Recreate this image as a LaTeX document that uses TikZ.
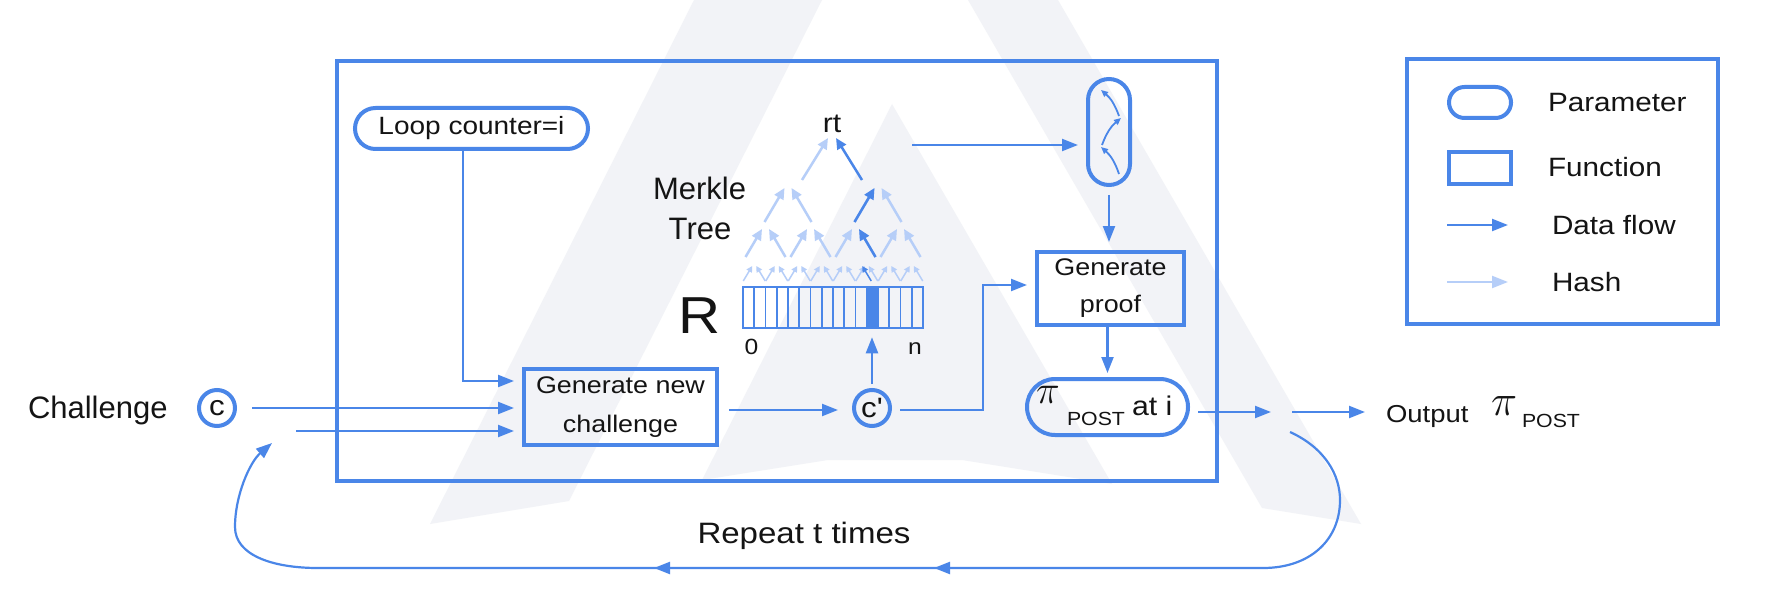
\RequirePackage{fix-cm}
\documentclass[tikz,border=0pt]{standalone}
\usepackage{fontspec}
\setmainfont{Liberation Sans}[FakeStretch=1.12]
\newfontfamily\plainsans{Liberation Sans}
\newfontfamily\nomapsans{Liberation Sans}[FakeStretch=1.12, Ligatures=ResetAll]
\usetikzlibrary{arrows.meta}
\definecolor{bl}{RGB}{74,134,232}
\definecolor{lbl}{RGB}{182,206,248}
\definecolor{wm}{RGB}{242,243,247}
\definecolor{tx}{RGB}{20,20,20}
\newcommand{\myfs}[1]{\fontsize{#1}{#1}\selectfont}
\begin{document}
\begin{tikzpicture}[x=1pt,y=-1pt,
  flow/.style={draw=bl, line width=2.2pt, shorten >=8pt, -{Triangle[length=16pt,width=12pt]}},
  hashar/.style={draw=lbl, line width=2.2pt, -{Triangle[length=16pt,width=12pt]}},
  hone/.style={draw=lbl, line width=1.5pt, -{Triangle[length=6pt,width=6pt]}},
  done/.style={draw=bl, line width=1.5pt, -{Triangle[length=6pt,width=6pt]}},
  htwo/.style={draw=lbl, line width=2.5pt, -{Triangle[length=11pt,width=10pt]}},
  dtwo/.style={draw=bl, line width=2.5pt, -{Triangle[length=11pt,width=10pt]}},
  smar/.style={draw=bl, line width=1.8pt, -{Triangle[length=7pt,width=6pt]}},
  box/.style={draw=bl, line width=4pt, inner sep=0pt, text=tx},
  circ/.style={draw=bl, line width=4pt, circle, minimum size=36pt, inner sep=0pt, text=tx, font=\myfs{28}},
  txt/.style={text=tx, inner sep=0pt, outer sep=0pt},
]
\fill[white] (0,0) rectangle (1774,604);
\useasboundingbox (0,0) rectangle (1774,604);
% watermark
\fill[wm] (430,524) -- (694,0) -- (822,0) -- (569,501) -- cycle;
\fill[wm] (892,104) -- (702,480) -- (828,460) -- (962,460) -- (1112,484) -- cycle;
\fill[wm] (1058,0) -- (1361,524) -- (1262,508) -- (968,0) -- cycle;

% frames
\node[box, minimum width=880pt, minimum height=420pt] (frame) at (777,271) {};
\node[box, minimum width=311pt, minimum height=265pt] (legend) at (1562.5,191.5) {};

% legend
\node[box, rounded corners=15.5pt, minimum width=62pt, minimum height=31pt] (legpill) at (1480,102.5) {};
\node[box, minimum width=62pt, minimum height=32pt] (legrect) at (1480,168) {};
\coordinate (dfa) at (1447,225); \coordinate (dfb) at (1508,225);
\coordinate (hsa) at (1447,282); \coordinate (hsb) at (1508,282);
\draw[flow, shorten >=0pt] (dfa) -- (dfb);
\draw[hashar] (hsa) -- (hsb);
\node[txt, anchor=base west, font=\myfs{26.5}] (lgp) at (1548,112) {Parameter};
\node[txt, anchor=base west, font=\myfs{26.5}] (lgf) at (1548,177) {Function};
\node[txt, anchor=base west, font=\myfs{26.5}] (lgd) at (1552,234) {Data flow};
\node[txt, anchor=base west, font=\myfs{26.5}] (lgh) at (1552,291) {Hash};

% main nodes
\node[box, rounded corners=20.5pt, minimum width=233pt, minimum height=41pt, font=\myfs{25}] (loop) at (471.5,128.5) {Loop counter=i};
\node[box, minimum width=193pt, minimum height=76pt, align=center, font={\fontsize{24}{39}\selectfont}] (gen) at (620.5,407) {Generate new\\challenge};
\node[box, minimum width=147pt, minimum height=73pt, align=center, font={\fontsize{24}{37}\selectfont}] (proof) at (1110.5,288.5) {Generate\\proof};
\node[box, rounded corners=28pt, minimum width=161pt, minimum height=56pt] (ppill) at (1107.5,407) {};
\node[box, rounded corners=21pt, minimum width=42pt, minimum height=106pt] (tpill) at (1109,132) {};
\node[circ] (c) at (217,408) {c};
\node[circ, font={\nomapsans\myfs{28}}] (cp) at (872,408) {c'};

% pill text
\node[txt, anchor=base west, font=\myfs{40}] (pipi) at (1036,403) {$\pi$};
\node[txt, anchor=base west, font=\myfs{19}] (pipost) at (1067,425) {POST};
\node[txt, anchor=base west, font=\myfs{27}] (piat) at (1132,415) {at i};

% labels
\node[txt, anchor=base west, font={\plainsans\myfs{31}}] (chal) at (28,418) {Challenge};
\node[txt, anchor=base, font={\plainsans\myfs{31}}] (merk) at (699.5,200) {Merkle};
\node[txt, anchor=base, font={\plainsans\myfs{31}}] (tree) at (700,240) {Tree};
\node[txt, anchor=base, font=\myfs{27}] (rt) at (832,133) {rt};
\node[txt, anchor=base, font=\myfs{52}] (R) at (700,333) {R};
\node[txt, anchor=base, font=\myfs{22}] (zero) at (751.5,354) {0};
\node[txt, anchor=base, font=\myfs{22}] (nn) at (915,354) {n};
\node[txt, anchor=base, font=\myfs{29.5}] (rep) at (804,543) {Repeat t times};
\node[txt, anchor=base west, font=\myfs{24.5}] (outtxt) at (1386,422) {Output};
\node[txt, anchor=base west, font=\myfs{44}] (opi) at (1491,415) {$\pi$};
\node[txt, anchor=base west, font=\myfs{19}] (opost) at (1522,427) {POST};

% array R
\node[draw=bl, line width=2.5pt, minimum width=180pt, minimum height=41pt, inner sep=0pt] (arr) at (833,307.5) {};
\fill[bl] (866.75,287) rectangle (878,328);
\foreach \i in {1,...,15} \draw[bl, line width=1.8pt] (743+11.25*\i,287) -- (743+11.25*\i,328);

% Merkle tree arrows
\foreach \j in {0,...,7} {
  \pgfmathsetmacro\cx{743+22.5*(\j+0.5)}
  \draw[hone] (\cx-11,281) -- (\cx-2,266);
  \draw[hone] (\cx+11,281) -- (\cx+2,266);
}
\foreach \k in {0,...,3} {
  \pgfmathsetmacro\cx{743+45*(\k+0.5)}
  \draw[htwo] (\cx-20,257) -- (\cx-3.5,229);
  \draw[htwo] (\cx+20,257) -- (\cx+3.5,229);
}
\foreach \m in {0,1} {
  \pgfmathsetmacro\cx{743+90*(\m+0.5)}
  \draw[htwo] (\cx-23.5,222) -- (\cx-3.5,188);
  \draw[htwo] (\cx+23.5,222) -- (\cx+3.5,188);
}
\draw[htwo] (802,180) -- (828,138);
% highlighted path
\draw[done] (871.25,281) -- (862.25,266);
\draw[dtwo] (875.5,257) -- (859,229);
\draw[dtwo] (854.5,222) -- (874.5,188);
\draw[dtwo] (862,180) -- (836,138);

% inner arrows of top pill
\draw[smar] (1119,174) to[bend right=15] (1101,147);
\draw[smar] (1102,145) to[bend left=15] (1121,118);
\draw[smar] (1119,116) to[bend right=15] (1101,90);

% connectors
\draw[flow] ([xshift=-8.5pt]loop.south) |- ([yshift=26pt]gen.west);
\draw[flow, shorten <=15pt] (c.east) -- (gen.west |- c.east);
\coordinate (ret) at (296,431);
\draw[flow] (ret) -- (gen.west |- ret);
\draw[flow, shorten <=10pt, shorten >=14pt] ([yshift=-3pt]gen.east) -- ([yshift=-2pt]cp.west);
\draw[flow, shorten <=4pt] (cp.north) -- (cp.north |- arr.south);
\coordinate (k1) at (983,410);
\draw[flow, shorten <=8pt] ([yshift=-2pt]cp.east) -- (k1) |- ([yshift=3.5pt]proof.west);
\coordinate (rtout) at (912,145);
\draw[flow] (rtout) -- (tpill.west |- rtout);
\draw[flow, shorten <=8pt] (tpill.south) -- (tpill.south |- proof.north);
\draw[flow, shorten >=4pt] (ppill.north |- proof.south) -- (ppill.north);
\coordinate (split) at (1281,412);
\draw[flow, shorten <=8pt, shorten >=10pt] ([yshift=-5pt]ppill.east) -- (split);
\draw[flow, shorten <=11pt, shorten >=21pt] (split) -- (outtxt.west |- split);

% repeat loop
\coordinate (lstart) at (1290,432);
\coordinate (lend) at (272,443);
\draw[flow, shorten >=0pt] (lstart) .. controls (1325,448) and (1340,475) .. (1340,500) .. controls (1340,540) and (1310,568) .. (1263,568) -- (318,568) .. controls (272,568) and (235,555) .. (235,527) .. controls (235,495) and (250,462) .. (lend);
\coordinate (ma1) at (952,568); \coordinate (mb1) at (934,568);
\coordinate (ma2) at (672,568); \coordinate (mb2) at (654,568);
\draw[flow, shorten >=0pt] (ma1) -- (mb1);
\draw[flow, shorten >=0pt] (ma2) -- (mb2);
\end{tikzpicture}
\end{document}
